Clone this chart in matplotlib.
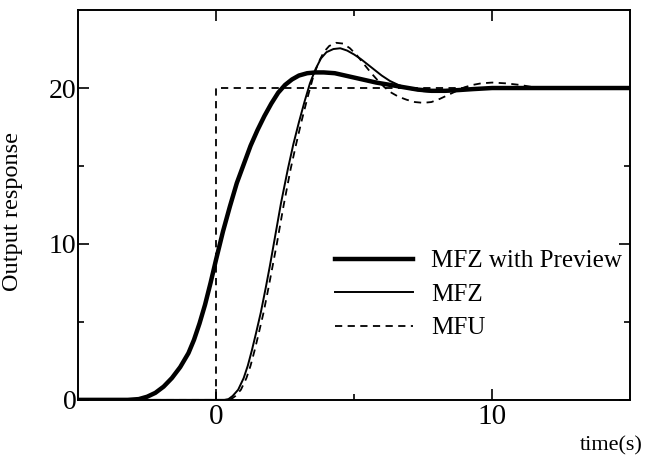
import numpy as np
import matplotlib
matplotlib.use("Agg")
import matplotlib.pyplot as plt
from matplotlib.ticker import FixedLocator

plt.rcParams['font.family'] = ['Liberation Serif', 'DejaVu Serif']

# MFZ with Preview (thick)
t_prev = np.array([-5, -3.2, -2.8, -2.5, -2.2, -1.9, -1.6, -1.3, -1.0, -0.8, -0.6, -0.4,
                   -0.2, 0, 0.25, 0.5, 0.75, 1.0, 1.25, 1.5, 1.75, 2.0, 2.25, 2.5, 2.75,
                   3.0, 3.3, 3.6, 3.9, 4.3, 4.8, 5.3, 5.8, 6.3, 6.8, 7.3, 7.8, 8.3, 8.8,
                   9.3, 10.0, 15])
y_prev = np.array([0, 0, 0.05, 0.2, 0.45, 0.85, 1.4, 2.1, 3.0, 3.85, 4.9, 6.1,
                   7.5, 9.0, 10.8, 12.4, 13.9, 15.1, 16.3, 17.3, 18.2, 19.0, 19.7, 20.2, 20.55,
                   20.8, 20.95, 21.0, 21.0, 20.95, 20.75, 20.55, 20.35, 20.2, 20.05, 19.9, 19.82,
                   19.82, 19.87, 19.93, 20.0, 20.0])

# MFZ (thin solid)
t_mfz = np.array([-5, 0.3, 0.45, 0.6, 0.8, 1.0, 1.15, 1.3, 1.45, 1.62, 1.8, 1.95, 2.1,
                  2.35, 2.6, 2.8, 3.0, 3.2, 3.4, 3.6, 3.8, 4.0, 4.25, 4.5, 4.75, 5.0,
                  5.25, 5.5, 5.75, 6.0, 6.3, 6.6, 7.0, 7.5, 8.0, 8.5, 9.0, 9.5, 10.5, 15])
y_mfz = np.array([0, 0, 0.05, 0.25, 0.65, 1.4, 2.2, 3.2, 4.3, 5.6, 7.2, 8.6, 10.1,
                  12.6, 14.8, 16.4, 17.8, 19.1, 20.3, 21.2, 21.9, 22.3, 22.5, 22.55, 22.4, 22.15,
                  21.85, 21.5, 21.15, 20.8, 20.45, 20.2, 19.95, 19.8, 19.75, 19.8, 19.9, 19.95,
                  20.0, 20.0])

# MFU (dashed)
t_mfu = np.array([-5, 0.4, 0.55, 0.7, 0.9, 1.1, 1.25, 1.4, 1.55, 1.72, 1.9, 2.05, 2.2,
                  2.45, 2.7, 2.9, 3.1, 3.3, 3.5, 3.7, 3.9, 4.1, 4.35, 4.6, 4.85, 5.1,
                  5.35, 5.6, 5.85, 6.1, 6.35, 6.6, 6.9, 7.2, 7.5, 7.8, 8.1, 8.4, 8.7,
                  9.0, 9.3, 9.6, 10.0, 10.5, 11.0, 11.5, 12.0, 15])
y_mfu = np.array([0, 0, 0.05, 0.25, 0.65, 1.4, 2.2, 3.2, 4.3, 5.6, 7.2, 8.6, 10.0,
                  12.5, 14.8, 16.4, 17.9, 19.3, 20.6, 21.6, 22.3, 22.7, 22.9, 22.85, 22.55, 22.1,
                  21.55, 21.0, 20.5, 20.05, 19.7, 19.45, 19.25, 19.1, 19.05, 19.1, 19.3, 19.55, 19.8,
                  20.05, 20.2, 20.3, 20.35, 20.3, 20.2, 20.05, 20.0, 20.0])

# reference step
t_ref = [-5, 0, 0, 15]
y_ref = [0, 0, 20, 20]

fig = plt.figure(figsize=(6.45, 4.57), dpi=100)
ax = fig.add_axes([0.121, 0.125, 0.856, 0.853])

dash = (0, (4, 3))
ax.plot(t_ref, y_ref, color='black', lw=1.3, linestyle=dash)
ax.plot(t_mfu, y_mfu, color='black', lw=1.3, linestyle=dash, label='MFU')
ax.plot(t_mfz, y_mfz, color='black', lw=1.4, label='MFZ')
ax.plot(t_prev, y_prev, color='black', lw=3.2, label='MFZ with Preview')

ax.set_xlim(-5, 15)
ax.set_ylim(0, 25)
ax.xaxis.set_major_locator(FixedLocator([0, 10]))
ax.xaxis.set_minor_locator(FixedLocator([5]))
ax.yaxis.set_major_locator(FixedLocator([0, 10, 20]))
ax.yaxis.set_minor_locator(FixedLocator([5, 15]))
ax.tick_params(which='both', direction='in', top=True, right=True, width=1.2)
ax.tick_params(which='major', length=8)
ax.tick_params(which='minor', length=4.5)
ax.tick_params(axis='x', labelsize=21, pad=3)
ax.tick_params(axis='y', labelsize=20, pad=1)
for s in ax.spines.values():
    s.set_linewidth(1.4)

ax.set_ylabel('Output response', fontsize=17.5)
ax.yaxis.set_label_coords(-0.1, 0.482)
fig.text(0.997, 0.003, 'time(s)', fontsize=16, ha='right', va='bottom')

h, l = ax.get_legend_handles_labels()
ax.legend(h[::-1], l[::-1], loc='upper left', bbox_to_anchor=(0.466, 0.385),
          frameon=False, fontsize=18, handlelength=3.1, handletextpad=0.72,
          labelspacing=0.44, borderpad=0, borderaxespad=0)

fig.savefig('out.png', dpi=100)
